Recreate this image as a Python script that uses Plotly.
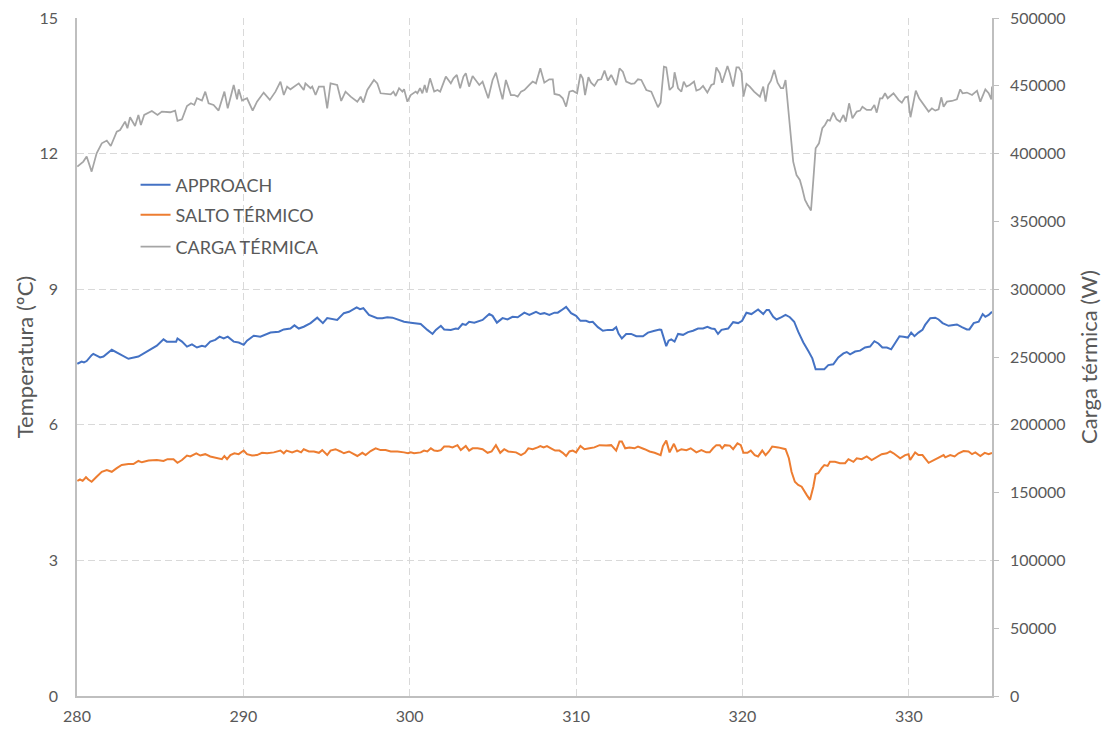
import plotly.graph_objects as go

# ---------------- data ----------------
x_approach = [280.02, 280.28, 280.42, 280.58, 280.88, 280.98, 281.39, 281.59, 282.09, 282.39, 283.09, 283.69,
              284.40, 284.80, 285.20, 285.40, 285.96, 286.04, 286.31, 286.61, 286.91, 287.21, 287.51, 287.71,
              288.01, 288.31, 288.57, 288.82, 289.06, 289.42, 289.72, 290.02, 290.22, 290.62, 291.02, 291.63,
              292.13, 292.43, 292.83, 293.07, 293.33, 293.63, 294.04, 294.44, 294.78, 295.04, 295.64, 296.04,
              296.35, 296.81, 297.01, 297.21, 297.55, 297.85, 298.05, 298.35, 298.65, 298.96, 299.36, 299.66,
              300.06, 300.66, 301.06, 301.37, 301.57, 301.87, 302.07, 302.47, 302.77, 302.91, 303.17, 303.37,
              303.57, 303.88, 304.38, 304.78, 304.98, 305.24, 305.58, 305.88, 306.18, 306.49, 306.89, 307.19,
              307.59, 307.85, 308.09, 308.39, 308.70, 308.90, 309.10, 309.40, 309.70, 310.00, 310.26, 310.60,
              310.80, 311.00, 311.31, 311.61, 311.91, 312.21, 312.41, 312.55, 312.75, 313.01, 313.31, 313.62,
              314.02, 314.32, 314.72, 315.02, 315.12, 315.28, 315.42, 315.56, 315.72, 315.92, 316.13, 316.43,
              316.73, 317.03, 317.33, 317.63, 317.89, 318.13, 318.33, 318.53, 318.74, 319.14, 319.44, 319.74,
              319.98, 320.24, 320.54, 320.94, 321.25, 321.45, 321.59, 321.85, 322.05, 322.35, 322.59, 322.85,
              323.11, 323.35, 323.66, 323.96, 324.20, 324.40, 324.66, 324.92, 325.16, 325.46, 325.76, 326.07,
              326.27, 326.47, 326.77, 327.07, 327.37, 327.67, 327.93, 328.17, 328.41, 328.68, 328.94, 329.18,
              329.44, 329.68, 329.94, 330.14, 330.34, 330.58, 330.82, 330.98, 331.29, 331.59, 331.79, 332.03,
              332.39, 332.69, 332.89, 333.19, 333.49, 333.64, 333.90, 334.20, 334.44, 334.60, 334.80, 335.00]
approach = [7.35, 7.40, 7.38, 7.41, 7.54, 7.57, 7.49, 7.51, 7.66, 7.60, 7.46, 7.51,
            7.67, 7.75, 7.89, 7.84, 7.84, 7.91, 7.84, 7.73, 7.78, 7.71, 7.75, 7.73,
            7.84, 7.88, 7.95, 7.91, 7.95, 7.84, 7.82, 7.77, 7.86, 7.97, 7.95, 8.04,
            8.06, 8.11, 8.13, 8.20, 8.13, 8.17, 8.25, 8.37, 8.25, 8.36, 8.32, 8.47,
            8.50, 8.60, 8.56, 8.58, 8.43, 8.39, 8.36, 8.36, 8.38, 8.37, 8.32, 8.28,
            8.26, 8.23, 8.10, 8.01, 8.10, 8.19, 8.11, 8.10, 8.13, 8.12, 8.23, 8.21,
            8.28, 8.26, 8.32, 8.45, 8.41, 8.26, 8.36, 8.33, 8.39, 8.38, 8.48, 8.43,
            8.50, 8.45, 8.47, 8.43, 8.48, 8.48, 8.53, 8.61, 8.47, 8.41, 8.30, 8.30,
            8.27, 8.28, 8.16, 8.08, 8.10, 8.10, 8.16, 8.02, 7.91, 8.01, 8.01, 7.96,
            7.96, 8.04, 8.08, 8.11, 8.10, 7.88, 7.74, 7.86, 7.89, 7.84, 8.01, 7.99,
            8.05, 8.08, 8.13, 8.13, 8.17, 8.13, 8.12, 8.01, 8.10, 8.13, 8.27, 8.25,
            8.30, 8.48, 8.45, 8.55, 8.45, 8.54, 8.54, 8.39, 8.33, 8.38, 8.43, 8.38,
            8.28, 8.06, 7.82, 7.63, 7.47, 7.23, 7.23, 7.23, 7.32, 7.34, 7.49, 7.58,
            7.61, 7.56, 7.62, 7.64, 7.71, 7.73, 7.85, 7.80, 7.71, 7.71, 7.67, 7.82,
            7.96, 7.95, 7.93, 8.04, 7.96, 8.04, 8.10, 8.21, 8.36, 8.37, 8.33, 8.25,
            8.19, 8.21, 8.22, 8.16, 8.11, 8.11, 8.25, 8.28, 8.45, 8.39, 8.43, 8.50]

x_salto = [280.02, 280.18, 280.34, 280.54, 280.68, 280.88, 281.18, 281.49, 281.79, 282.09, 282.39, 282.69,
           283.09, 283.39, 283.69, 283.90, 284.30, 284.80, 285.20, 285.44, 285.80, 286.04, 286.31, 286.61,
           286.81, 287.17, 287.41, 287.71, 288.01, 288.41, 288.71, 288.86, 289.02, 289.22, 289.46, 289.72,
           290.02, 290.22, 290.52, 290.82, 291.12, 291.43, 291.83, 292.23, 292.43, 292.59, 292.93, 293.23,
           293.47, 293.63, 293.94, 294.24, 294.54, 294.74, 295.04, 295.24, 295.54, 295.84, 296.04, 296.35,
           296.55, 296.85, 297.15, 297.35, 297.65, 297.95, 298.25, 298.55, 298.86, 299.26, 299.66, 299.90,
           300.06, 300.26, 300.66, 300.86, 301.06, 301.27, 301.47, 301.67, 301.87, 302.07, 302.37, 302.57,
           302.87, 303.07, 303.37, 303.57, 303.78, 304.08, 304.38, 304.68, 304.92, 305.18, 305.44, 305.68,
           305.92, 306.18, 306.39, 306.69, 306.93, 307.13, 307.39, 307.69, 307.85, 308.05, 308.25, 308.49,
           308.74, 309.00, 309.20, 309.40, 309.60, 309.80, 310.00, 310.26, 310.50, 310.80, 311.10, 311.41,
           311.81, 312.11, 312.41, 312.61, 312.75, 312.95, 313.21, 313.51, 313.72, 314.12, 314.42, 314.72,
           315.08, 315.22, 315.42, 315.62, 315.88, 316.08, 316.33, 316.63, 316.89, 317.23, 317.53, 317.83,
           318.03, 318.23, 318.43, 318.64, 318.78, 318.94, 319.24, 319.44, 319.70, 319.90, 320.06, 320.30,
           320.50, 320.74, 320.94, 321.19, 321.39, 321.59, 321.79, 322.15, 322.39, 322.59, 322.79, 322.95,
           323.15, 323.35, 323.56, 323.72, 323.86, 324.06, 324.26, 324.40, 324.56, 324.76, 324.92, 325.12,
           325.26, 325.56, 325.86, 326.17, 326.37, 326.67, 326.87, 327.17, 327.47, 327.77, 327.97, 328.37,
           328.68, 328.88, 329.08, 329.48, 329.78, 329.98, 330.08, 330.38, 330.58, 330.82, 331.19, 331.49,
           331.79, 332.09, 332.19, 332.49, 332.75, 332.99, 333.29, 333.59, 333.80, 334.00, 334.30, 334.56,
           334.80, 335.00]
salto = [4.76, 4.79, 4.76, 4.84, 4.79, 4.74, 4.85, 4.96, 5.00, 4.96, 5.04, 5.11,
         5.13, 5.13, 5.20, 5.17, 5.21, 5.22, 5.20, 5.24, 5.24, 5.16, 5.22, 5.32,
         5.30, 5.37, 5.32, 5.35, 5.30, 5.27, 5.24, 5.31, 5.24, 5.33, 5.37, 5.35,
         5.43, 5.35, 5.32, 5.33, 5.38, 5.37, 5.39, 5.43, 5.37, 5.43, 5.39, 5.43,
         5.39, 5.46, 5.41, 5.41, 5.38, 5.44, 5.33, 5.43, 5.46, 5.41, 5.37, 5.41,
         5.37, 5.31, 5.38, 5.33, 5.42, 5.48, 5.44, 5.44, 5.41, 5.41, 5.39, 5.37,
         5.39, 5.37, 5.39, 5.43, 5.41, 5.48, 5.43, 5.42, 5.44, 5.52, 5.52, 5.50,
         5.55, 5.44, 5.53, 5.43, 5.48, 5.48, 5.46, 5.38, 5.41, 5.55, 5.38, 5.46,
         5.41, 5.39, 5.39, 5.33, 5.38, 5.48, 5.46, 5.50, 5.53, 5.50, 5.53, 5.48,
         5.43, 5.43, 5.38, 5.31, 5.41, 5.43, 5.39, 5.53, 5.46, 5.48, 5.50, 5.55,
         5.54, 5.55, 5.43, 5.63, 5.63, 5.48, 5.50, 5.48, 5.52, 5.46, 5.41, 5.38,
         5.33, 5.53, 5.65, 5.39, 5.58, 5.41, 5.46, 5.44, 5.48, 5.39, 5.44, 5.39,
         5.39, 5.48, 5.55, 5.55, 5.48, 5.55, 5.54, 5.46, 5.59, 5.55, 5.38, 5.38,
         5.43, 5.33, 5.30, 5.43, 5.33, 5.41, 5.52, 5.50, 5.48, 5.46, 5.26, 4.96,
         4.74, 4.67, 4.63, 4.52, 4.45, 4.34, 4.63, 4.91, 4.93, 5.04, 5.11, 5.09,
         5.18, 5.18, 5.15, 5.15, 5.24, 5.18, 5.26, 5.24, 5.30, 5.22, 5.26, 5.35,
         5.37, 5.41, 5.37, 5.26, 5.33, 5.35, 5.22, 5.39, 5.33, 5.33, 5.16, 5.22,
         5.28, 5.33, 5.28, 5.33, 5.30, 5.37, 5.42, 5.41, 5.35, 5.39, 5.31, 5.38,
         5.35, 5.38]

x_carga = [280.02, 280.38, 280.58, 280.88, 281.18, 281.49, 281.79, 282.03, 282.39, 282.59, 282.89, 283.03,
           283.19, 283.49, 283.69, 283.84, 284.04, 284.50, 284.84, 285.10, 285.60, 285.90, 286.04, 286.31,
           286.61, 286.85, 287.05, 287.21, 287.51, 287.71, 287.91, 288.21, 288.51, 288.86, 289.06, 289.42,
           289.62, 289.72, 289.92, 290.22, 290.56, 290.82, 291.22, 291.59, 291.93, 292.23, 292.43, 292.63,
           292.83, 293.33, 293.63, 293.73, 294.04, 294.14, 294.34, 294.54, 294.84, 295.04, 295.24, 295.64,
           295.88, 296.14, 296.45, 296.85, 297.05, 297.21, 297.45, 297.85, 298.05, 298.25, 298.86, 299.02,
           299.16, 299.36, 299.56, 299.66, 299.86, 300.06, 300.36, 300.46, 300.62, 300.76, 300.90, 301.02,
           301.22, 301.47, 301.67, 301.83, 302.17, 302.47, 302.63, 302.83, 303.03, 303.23, 303.37, 303.57,
           303.78, 303.98, 304.18, 304.38, 304.72, 304.98, 305.18, 305.38, 305.58, 305.78, 306.08, 306.29,
           306.49, 306.69, 306.89, 307.19, 307.39, 307.59, 307.85, 308.09, 308.39, 308.60, 308.70, 309.00,
           309.20, 309.40, 309.60, 309.80, 310.06, 310.26, 310.40, 310.54, 310.74, 310.90, 311.10, 311.31,
           311.51, 311.71, 311.91, 312.11, 312.41, 312.61, 312.81, 313.01, 313.31, 313.51, 313.72, 313.92,
           314.22, 314.52, 314.72, 314.92, 315.08, 315.28, 315.42, 315.62, 315.82, 315.92, 316.13, 316.33,
           316.47, 316.63, 316.83, 317.09, 317.23, 317.43, 317.63, 317.89, 318.13, 318.29, 318.43, 318.64,
           318.78, 319.10, 319.24, 319.44, 319.64, 319.78, 319.94, 320.06, 320.24, 320.44, 320.70, 321.05,
           321.25, 321.39, 321.55, 321.71, 321.91, 322.11, 322.31, 322.45, 322.59, 322.75, 322.95, 323.05,
           323.25, 323.45, 323.59, 323.76, 323.92, 324.12, 324.26, 324.40, 324.60, 324.80, 324.96, 325.12,
           325.26, 325.46, 325.66, 325.86, 326.07, 326.21, 326.41, 326.61, 326.87, 327.07, 327.21, 327.47,
           327.73, 327.93, 328.07, 328.27, 328.41, 328.57, 328.73, 329.08, 329.38, 329.58, 329.78, 329.94,
           330.10, 330.28, 330.42, 330.62, 330.82, 330.98, 331.19, 331.39, 331.59, 331.79, 331.95, 332.09,
           332.29, 332.59, 332.89, 333.09, 333.23, 333.49, 333.80, 334.10, 334.30, 334.60, 334.80, 334.96,
           335.00]
carga = [390400, 394100, 397800, 386700, 400200, 407600, 409600, 405600, 416200, 417400, 423600, 418700,
         426800, 420400, 428500, 421100, 428500, 431400, 428500, 431000, 430500, 431700, 424100, 425300,
         435100, 437100, 435900, 440800, 439100, 445700, 437100, 435900, 431700, 445700, 433400, 450600,
         440000, 447400, 439100, 440800, 431700, 438300, 445000, 439600, 445700, 453100, 443200, 449400,
         447400, 451800, 446900, 451800, 448200, 449400, 443200, 449400, 449400, 433400, 451800, 450600,
         438800, 445700, 442000, 438300, 442000, 437600, 446900, 454300, 451800, 444500, 443700, 445700,
         442500, 448200, 445700, 447400, 438300, 443200, 445700, 444500, 448200, 444500, 450600, 445000,
         455500, 445700, 446900, 445700, 456800, 451800, 455500, 458000, 448200, 456800, 459200, 449400,
         457300, 454300, 450600, 453100, 440800, 454300, 459700, 449400, 440000, 454300, 443200, 443200,
         442000, 445700, 446900, 450600, 453100, 451800, 462900, 452300, 454800, 454800, 444000, 443200,
         440800, 434600, 445700, 446400, 444500, 458500, 455500, 443200, 456300, 452300, 449900, 454300,
         454800, 461200, 453800, 458000, 450600, 462900, 460400, 453100, 451400, 451800, 454800, 454300,
         446900, 445700, 439600, 434200, 437600, 464100, 463600, 446900, 449400, 460000, 448200, 445700,
         453100, 449400, 450600, 453100, 446400, 447400, 449900, 445000, 450600, 451400, 463600, 459200,
         452300, 464600, 459200, 449400, 463600, 463600, 460400, 442000, 451400, 449400, 445700, 442000,
         449400, 438300, 450600, 453800, 461700, 452300, 448200, 448200, 454300, 434600, 410100, 394100,
         384200, 380600, 374400, 365800, 362100, 358000, 380600, 403900, 407600, 418700, 421100, 424800,
         424300, 430200, 425300, 423600, 428500, 423600, 437100, 426000, 431000, 431700, 434600, 432200,
         432200, 435900, 430200, 440800, 440800, 444500, 440800, 444500, 439600, 437600, 441500, 442000,
         426800, 439600, 446400, 440800, 437100, 435100, 431000, 433400, 431700, 432700, 441500, 434600,
         438300, 438800, 440000, 447400, 444500, 445000, 443200, 446400, 438300, 447400, 444500, 440000,
         449400]

x_ticks = [280, 290, 300, 310, 320, 330]
y_left_ticks = [0, 3, 6, 9, 12, 15]
y_right_ticks = [0, 50000, 100000, 150000, 200000, 250000, 300000, 350000, 400000, 450000, 500000]

# ---------------- figure ----------------
TXT = "#595959"
GRID = "#D9D9D9"
AXIS = "#BFBFBF"
FONT = "Lato"
DASH = "7px,4px"

fig = go.Figure()
fig.add_trace(go.Scatter(x=x_approach, y=approach, mode="lines", name="APPROACH",
                         line=dict(color="#4472C4", width=2), legend="legend"))
fig.add_trace(go.Scatter(x=x_salto, y=salto, mode="lines", name="SALTO TÉRMICO",
                         line=dict(color="#ED7D31", width=2), legend="legend2"))
fig.add_trace(go.Scatter(x=x_carga, y=carga, mode="lines", name="CARGA TÉRMICA",
                         line=dict(color="#A5A5A5", width=1.75), yaxis="y2", legend="legend3"))

leg_common = dict(x=0.064, xanchor="left", yanchor="middle", bgcolor="rgba(0,0,0,0)",
                  font=dict(size=18, color=TXT, family=FONT), itemwidth=30)

fig.update_layout(
    width=1102, height=731,
    margin=dict(l=77, r=110, t=18, b=35),
    paper_bgcolor="white", plot_bgcolor="white",
    font=dict(family=FONT, color=TXT, size=16),
    showlegend=True,
    legend=dict(y=0.7537, **leg_common),
    legend2=dict(y=0.7094, **leg_common),
    legend3=dict(y=0.6622, **leg_common),
    xaxis=dict(range=[280, 335], tickvals=x_ticks, showgrid=True, gridcolor=GRID, griddash=DASH,
               gridwidth=1, showline=True, linecolor=AXIS, linewidth=1.5, zeroline=False,
               ticks="", tickfont=dict(size=16, color=TXT), ticklabelstandoff=5,
               automargin=False),
    yaxis=dict(range=[0, 15], tickvals=y_left_ticks, showgrid=True, gridcolor=GRID, griddash=DASH,
               gridwidth=1, showline=True, linecolor=AXIS, linewidth=1.5, zeroline=False,
               ticks="", tickfont=dict(size=16, color=TXT), ticklabelstandoff=14,
               title=dict(text="Temperatura (ºC)", font=dict(size=22, color=TXT), standoff=0),
               automargin=False),
    yaxis2=dict(range=[0, 500000], tickvals=y_right_ticks, overlaying="y", side="right",
                showgrid=False, showline=True, linecolor=AXIS, linewidth=1.5, zeroline=False,
                ticks="outside", ticklen=5, tickcolor=AXIS, tickformat="d",
                tickfont=dict(size=16, color=TXT), ticklabelstandoff=8,
                title=dict(text="Carga térmica (W)", font=dict(size=22, color=TXT), standoff=20),
                automargin=False),
)

fig.write_html("out.html", config={"displayModeBar": False},
               post_script="document.body.style.margin='0';")
